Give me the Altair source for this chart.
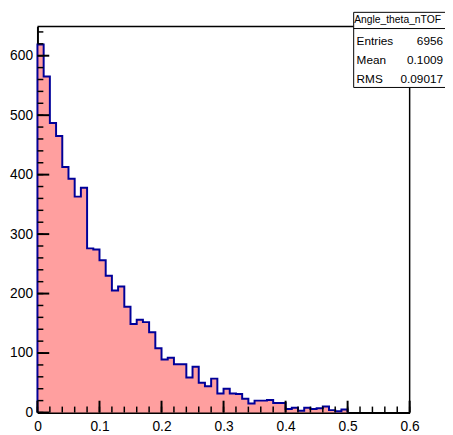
import altair as alt
import pandas as pd

# ---- data ----
bin_width = 0.01
counts = [619, 565, 487, 465, 413, 393, 363, 378, 276, 274,
          256, 230, 205, 212, 178, 149, 156, 152, 135, 108,
          89, 92, 81, 81, 59, 77, 50, 44, 57, 32,
          40, 32, 31, 23, 15, 20, 20, 21, 16, 16,
          6, 8, 3, 8, 6, 7, 10, 4, 2, 5]
x_major = [0, 0.1, 0.2, 0.3, 0.4, 0.5, 0.6]
x_minor = [round(0.02 * i, 2) for i in range(31)]
y_major = [0, 100, 200, 300, 400, 500, 600]
y_minor = [20 * i for i in range(33)]

hist_name = "Angle_theta_nTOF"
stat_names = ["Entries", "Mean", "RMS"]
stat_values = ["6956", "0.1009", "0.09017"]

W, H = 379, 393
FONT = "Liberation Sans"

# ---- tables ----
edges = [round(i * bin_width, 2) for i in range(len(counts))]
area_df = pd.DataFrame({
    "x": edges + [round(len(counts) * bin_width, 2)],
    "c": counts + [counts[-1]],
})
area_df["z"] = 0

line_df = pd.DataFrame({
    "x": [0] + edges + [round(len(counts) * bin_width, 2)] * 2,
    "c": [0] + counts + [counts[-1], 0],
})
line_df["i"] = range(len(line_df))

xs = alt.Scale(domain=[0, 0.6], nice=False, zero=False)
ys = alt.Scale(domain=[0, 649], nice=False, zero=True)

axis_common = dict(ticks=False, tickSize=0, grid=False, title=None,
                   domainColor="black", domainWidth=2,
                   labelFont=FONT, labelFontSize=14, labelColor="black",
                   labelFlush=False, labelOverlap=False)
xaxis = alt.Axis(values=x_major, labelPadding=7,
                 labelExpr="datum.value == 0 ? '0' : format(datum.value, '.1f')",
                 **axis_common)
yaxis = alt.Axis(values=y_major, labelPadding=5, **axis_common)

fill = alt.Chart(area_df).mark_area(
    interpolate="step-after", color="#ff9f9f", opacity=1
).encode(
    x=alt.X("x:Q", scale=xs, axis=xaxis),
    y=alt.Y("c:Q", scale=ys, axis=yaxis, stack=None),
    y2="z:Q",
)

outline = alt.Chart(line_df).mark_line(
    interpolate="step-after", color="#000099", strokeWidth=2
).encode(
    x=alt.X("x:Q", scale=xs, axis=xaxis),
    y=alt.Y("c:Q", scale=ys, axis=yaxis),
    order="i:Q",
)

def xticks(vals, length, width):
    return alt.Chart(pd.DataFrame({"x": vals})).mark_rule(
        color="black", strokeWidth=width
    ).encode(
        x=alt.X("x:Q", scale=xs, axis=xaxis),
        y=alt.value(H), y2=alt.value(H - length),
    )

def yticks(vals, length, width):
    return alt.Chart(pd.DataFrame({"c": vals})).mark_rule(
        color="black", strokeWidth=width
    ).encode(
        y=alt.Y("c:Q", scale=ys, axis=yaxis),
        x=alt.value(0), x2=alt.value(length),
    )

one = pd.DataFrame({"a": [0]})
box_left = 322
box_right = 440
box_top = -14.5
box_bottom = 62

frame_top = alt.Chart(one).mark_rule(color="black", strokeWidth=1.5).encode(
    x=alt.value(0), x2=alt.value(box_left), y=alt.value(0))
frame_right = alt.Chart(one).mark_rule(color="black", strokeWidth=1.5).encode(
    x=alt.value(W), y=alt.value(box_bottom), y2=alt.value(H))

box = alt.Chart(one).mark_rect(fill="white", stroke="black", strokeWidth=1).encode(
    x=alt.value(box_left), x2=alt.value(box_right),
    y=alt.value(box_top), y2=alt.value(box_bottom))
box_sep = alt.Chart(one).mark_rule(color="black", strokeWidth=1).encode(
    x=alt.value(box_left), x2=alt.value(box_right), y=alt.value(2))
box_title = alt.Chart(one).mark_text(
    font=FONT, fontSize=10.5, align="left", baseline="middle", color="black"
).encode(x=alt.value(box_left + 0.5), y=alt.value(-7), text=alt.value(hist_name))

stat_layers = []
for k, (n, v) in enumerate(zip(stat_names, stat_values)):
    yy = 15 + 19 * k
    stat_layers.append(alt.Chart(one).mark_text(
        font=FONT, fontSize=12, align="left", baseline="middle", color="black"
    ).encode(x=alt.value(box_left + 3), y=alt.value(yy), text=alt.value(n)))
    stat_layers.append(alt.Chart(one).mark_text(
        font=FONT, fontSize=12, align="right", baseline="middle", color="black"
    ).encode(x=alt.value(413), y=alt.value(yy), text=alt.value(v)))

chart = alt.layer(
    fill, outline,
    xticks(x_minor, 6, 1.5), xticks(x_major, 12, 2),
    yticks(y_minor, 6, 1.5), yticks(y_major, 12, 2),
    frame_top, frame_right,
    box, box_sep, box_title, *stat_layers,
).properties(
    width=W, height=H,
    autosize=alt.AutoSizeParams(type="none"),
    padding={"left": 30, "top": 15, "right": 36, "bottom": 19},
).configure_view(stroke=None)

chart.save("out.html", embed_options={"renderer": "svg", "actions": False})
